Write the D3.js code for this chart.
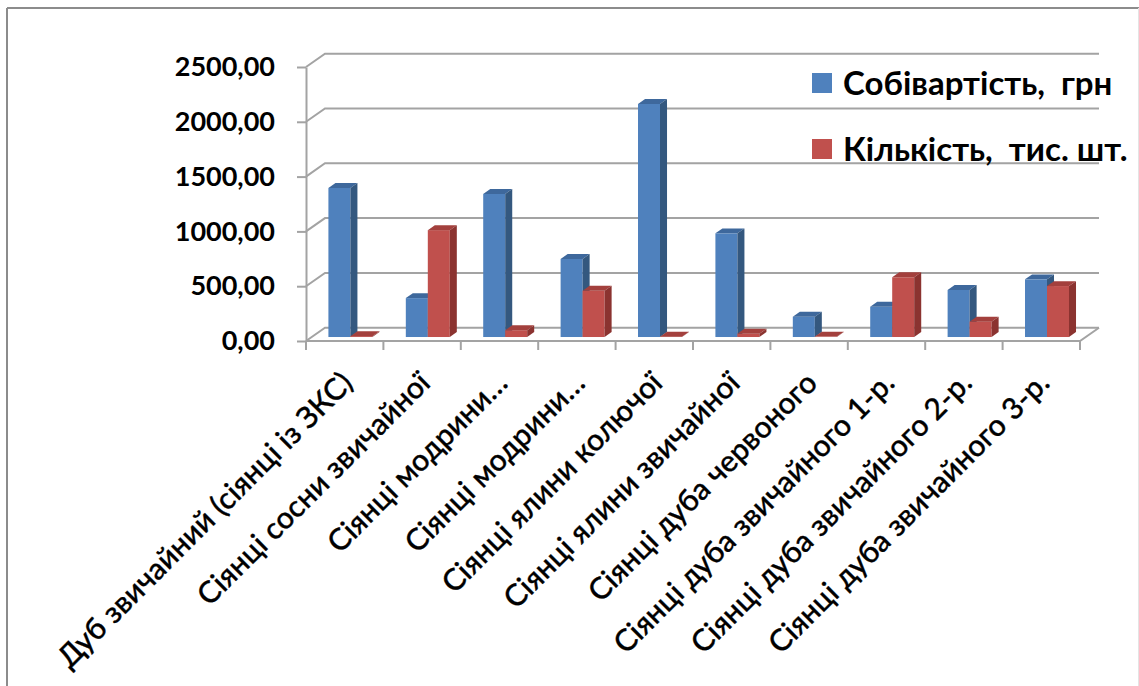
<!DOCTYPE html>
<html>
<head>
<meta charset="utf-8">
<script src="https://cdn.jsdelivr.net/npm/d3@7"></script>
<style>
  html, body { margin: 0; padding: 0; background: #fff; }
  svg { display: block; }
  text { font-family: Lato, "Open Sans", sans-serif; fill: #000; }
</style>
</head>
<body>
<script>
// Seedling categories
const categories = [
  "Дуб звичайний (сіянці із ЗКС)",
  "Сіянці сосни звичайної",
  "Сіянці модрини…",
  "Сіянці модрини…",
  "Сіянці ялини колючої",
  "Сіянці ялини звичайної",
  "Сіянці дуба червоного",
  "Сіянці дуба звичайного 1-р.",
  "Сіянці дуба звичайного 2-р.",
  "Сіянці дуба звичайного 3-р."
];
// Series values
const costValues = [1360, 355, 1305, 712, 2126, 946, 185, 276, 429, 526];
const qtyValues = [8, 975, 62, 422, 3, 30, 4, 545, 140, 465];
const seriesNames = ["Собівартість,  грн", "Кількість,  тис. шт."];
// Value axis ticks
const yTicks = [0, 500, 1000, 1500, 2000, 2500];

const W = 1139, H = 686;
const svg = d3.select("body").append("svg").attr("width", W).attr("height", H);

// chart frame
svg.append("line").attr("x1", 7).attr("y1", 8).attr("x2", W).attr("y2", 8)
  .attr("stroke", "#8c8c8c").attr("stroke-width", 2);
svg.append("line").attr("x1", 7).attr("y1", 8).attr("x2", 7).attr("y2", H)
  .attr("stroke", "#8c8c8c").attr("stroke-width", 2);
svg.append("line").attr("x1", W - 0.5).attr("y1", 8).attr("x2", W - 0.5).attr("y2", H)
  .attr("stroke", "#e4e4e4").attr("stroke-width", 1);

// 3D geometry: front plane and depth offset of the back wall
const x0 = 306, x1 = 1080;
const DX = 19, DY = -13.3;
const barFront = 0.3, barDepth = 0.37;

const y = d3.scaleLinear().domain([0, 2500]).range([341, 67]);
const x = d3.scaleBand().domain(d3.range(categories.length)).range([x0, x1]).padding(0);
const xs = d3.scaleBand().domain([0, 1]).range([0, x.bandwidth()]).paddingInner(0).paddingOuter(0.76);

const locale = d3.formatLocale({ decimal: ",", thousands: "", grouping: [3], currency: ["", ""] });
const fmt = locale.format(".2f");

const gridColor = "#a3a3a3";

// side wall diagonals and back wall gridlines
svg.append("g").selectAll("path").data(yTicks).join("path")
  .attr("d", t => `M${x0},${y(t)}L${x0 + DX},${y(t) + DY}L${x1 + DX},${y(t) + DY}`)
  .attr("fill", "none").attr("stroke", gridColor).attr("stroke-width", 2);

// floor front and right edges
svg.append("path")
  .attr("d", `M${x0},${y(0)}L${x1},${y(0)}L${x1 + DX},${y(0) + DY}`)
  .attr("fill", "none").attr("stroke", gridColor).attr("stroke-width", 2);

// category tick marks at band boundaries
const boundaries = d3.range(categories.length + 1).map(i => x0 + i * x.step());
svg.append("g").selectAll("line").data(boundaries).join("line")
  .attr("x1", d => d).attr("x2", d => d)
  .attr("y1", y(0)).attr("y2", y(0) + 9)
  .attr("stroke", gridColor).attr("stroke-width", 2);

// value axis
const yAxis = svg.append("g").attr("transform", `translate(${x0},0)`)
  .call(d3.axisLeft(y).tickValues(yTicks).tickSize(9).tickSizeOuter(0).tickPadding(22).tickFormat(fmt));
yAxis.select(".domain").attr("stroke", gridColor).attr("stroke-width", 2);
yAxis.selectAll(".tick line").attr("stroke", gridColor).attr("stroke-width", 2);
yAxis.selectAll(".tick text")
  .style("font-family", "Lato, 'Open Sans', sans-serif")
  .style("font-size", "27px").style("font-weight", "bold").attr("fill", "#000");

// bars
const palette = [
  { front: "#4F81BD", top: "#3E689C", side: "#34587F" },
  { front: "#C0504D", top: "#A3403D", side: "#8B3330" }
];
const rows = [];
categories.forEach((c, i) => {
  [costValues[i], qtyValues[i]].forEach((v, s) => rows.push({ i, s, v }));
});
const ox = barFront * DX, oy = barFront * DY;
const bdx = barDepth * DX, bdy = barDepth * DY;
const bw = xs.bandwidth();

const bars = svg.append("g").selectAll("g").data(rows).join("g");
bars.append("rect")
  .attr("x", d => x(d.i) + xs(d.s) + ox)
  .attr("y", d => y(d.v) + oy)
  .attr("width", bw)
  .attr("height", d => y(0) - y(d.v))
  .attr("fill", d => palette[d.s].front);
bars.append("path")
  .attr("d", d => {
    const bx = x(d.i) + xs(d.s) + ox, t = y(d.v) + oy;
    return `M${bx},${t}L${bx + bdx},${t + bdy}L${bx + bw + bdx},${t + bdy}L${bx + bw},${t}Z`;
  })
  .attr("fill", d => palette[d.s].top);
bars.append("path")
  .attr("d", d => {
    const bx = x(d.i) + xs(d.s) + ox + bw, t = y(d.v) + oy, b = y(0) + oy;
    return `M${bx},${t}L${bx + bdx},${t + bdy}L${bx + bdx},${b + bdy}L${bx},${b}Z`;
  })
  .attr("fill", d => palette[d.s].side);

// category labels, rotated
svg.append("g").selectAll("text").data(categories).join("text")
  .attr("transform", (d, i) => `translate(${x(i) + x.bandwidth() / 2 - 5},${370}) rotate(-45)`)
  .attr("text-anchor", "end")
  .attr("dy", "0.7em")
  .style("font-size", "30px")
  .style("font-weight", 500)
  .attr("stroke", "#000")
  .attr("stroke-width", 0.35)
  .text(d => d);

// legend
const legend = svg.append("g").selectAll("g").data(seriesNames).join("g")
  .attr("transform", (d, i) => `translate(812,${73 + i * 66})`);
legend.append("rect").attr("width", 20).attr("height", 20)
  .attr("fill", (d, i) => palette[i].front);
legend.append("text").attr("x", 31).attr("y", 22)
  .style("font-size", "33px").style("font-weight", "bold")
  .style("white-space", "pre")
  .text(d => d);
</script>
</body>
</html>
